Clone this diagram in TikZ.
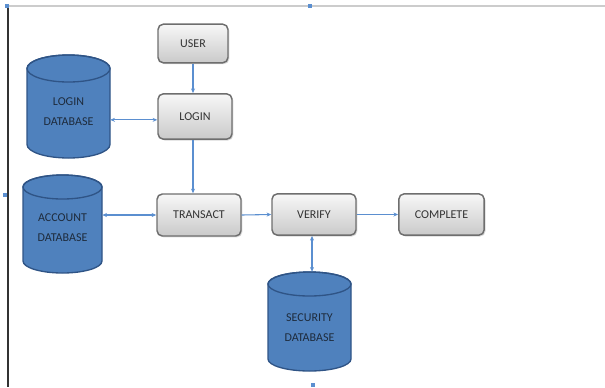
\documentclass[tikz,border=0pt]{standalone}
\usepackage{fontspec}
\setmainfont{Carlito}
\usetikzlibrary{arrows.meta,shadows}
\definecolor{dbfill}{HTML}{4F81BD}
\definecolor{dbedge}{HTML}{2F5486}
\definecolor{lnk}{HTML}{5B8FD0}
\definecolor{boxedge}{HTML}{6E6E6E}
\definecolor{txt}{HTML}{333333}
\definecolor{dbtxt}{HTML}{1E2B3C}
\begin{document}
\begin{tikzpicture}[x=0.75pt,y=-0.75pt,
  procbox/.style={draw=boxedge, line width=1.1pt, rounded corners=4pt,
    top color=gray!6, bottom color=gray!42,
    drop shadow={opacity=0.3,shadow xshift=1pt,shadow yshift=-1pt},
    font=\fontsize{9}{11}\selectfont, text=txt, inner sep=0pt},
  dbnode/.style={inner sep=0pt},
  dbtext/.style={font=\fontsize{9}{15}\selectfont, text=dbtxt, align=center, inner sep=0pt},
  cylshape/.style={fill=dbfill, draw=dbedge, line width=1pt},
  tip/.tip={Stealth[length=3.5pt,width=3pt]},
  link/.style={draw=lnk, line width=0.8pt, -tip},
  both/.style={draw=lnk, line width=0.8pt, tip-tip},
  handle/.style={fill=lnk}]
\useasboundingbox (0,0) rectangle (605,387);

% frame of the page
\draw[gray!40, line width=1pt] (7,6) -- (605,6);
\draw[black!80, line width=1.2pt] (8,6) -- (8,387);
\fill[handle] (5,4) rectangle (9,8);
\fill[handle] (308,4) rectangle (312,8);
\fill[handle] (3,193) rectangle (7,197);
\fill[handle] (311,383) rectangle (315,387);

% process boxes
\node[procbox, minimum width=52.5pt, minimum height=29pt] (user) at (193,43.5) {USER};
\node[procbox, minimum width=55.5pt, minimum height=34pt] (login) at (195,116.5) {LOGIN};
\node[procbox, minimum width=63pt, minimum height=31.5pt] (transact) at (199,215) {TRANSACT};
\node[procbox, minimum width=63pt, minimum height=31pt] (verify) at (314,214.5) {VERIFY};
\node[procbox, minimum width=64pt, minimum height=31pt] (complete) at (441.5,214.5) {COMPLETE};

% login database
\path[cylshape] (27,68.5) -- (27,144.5) arc[start angle=180,end angle=360,x radius=31.125pt,y radius=10.125pt]
  -- (110,68.5) arc[start angle=0,end angle=180,x radius=31.125pt,y radius=10.125pt] -- cycle;
\draw[dbedge, line width=1pt] (68.5,68.5) ellipse[x radius=31.125pt,y radius=10.125pt];
\node[dbnode, minimum width=62.25pt, minimum height=77.25pt,
  label={[dbtext, yshift=-4.1pt]center:LOGIN\\DATABASE}] (ldb) at (68.5,106.5) {};

% account database
\path[cylshape] (23,187) -- (23,261) arc[start angle=180,end angle=360,x radius=29.625pt,y radius=9pt]
  -- (102,187) arc[start angle=0,end angle=180,x radius=29.625pt,y radius=9pt] -- cycle;
\draw[dbedge, line width=1pt] (62.5,187) ellipse[x radius=29.625pt,y radius=9pt];
\node[dbnode, minimum width=59.25pt, minimum height=73.5pt,
  label={[dbtext, yshift=-3pt]center:ACCOUNT\\DATABASE}] (adb) at (62.5,224) {};

% security database
\path[cylshape] (268,284) -- (268,359) arc[start angle=180,end angle=360,x radius=31.125pt,y radius=9pt]
  -- (351,284) arc[start angle=0,end angle=180,x radius=31.125pt,y radius=9pt] -- cycle;
\draw[dbedge, line width=1pt] (309.5,284) ellipse[x radius=31.125pt,y radius=9pt];
\node[dbnode, minimum width=62.25pt, minimum height=74.25pt,
  label={[dbtext, yshift=-4.9pt]center:SECURITY\\DATABASE}] (sdb) at (309.5,321.5) {};

% connectors
\draw[link] (user.south) -- (user.south |- login.north);
\draw[link] (user.south |- login.south) -- (user.south |- transact.north);
\coordinate (lj) at ([yshift=-2.5pt]login.west);
\draw[both] (ldb.east |- lj) -- (lj);
\draw[both] (adb.east |- transact.west) -- (transact.west);
\draw[link] (transact.east) -- (verify.west);
\draw[link] (verify.east) -- (complete.west);
\coordinate (vj) at ([xshift=-1.5pt]verify.south);
\draw[both] (vj) -- (vj |- sdb.north);
\end{tikzpicture}
\end{document}
